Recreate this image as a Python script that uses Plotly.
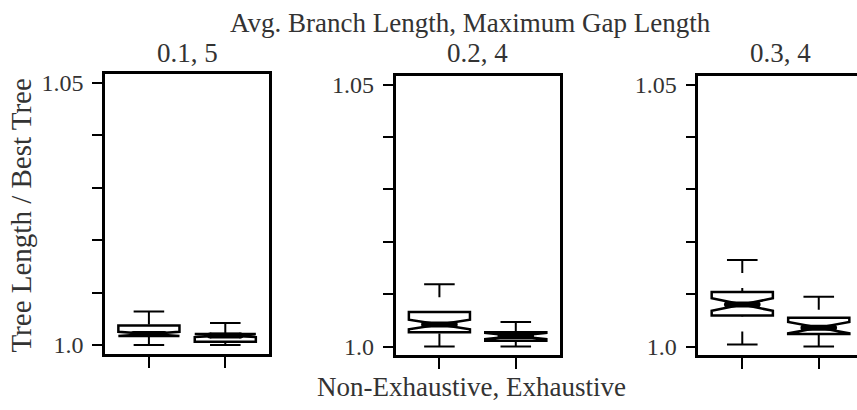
import plotly.graph_objects as go

# ---------------- data ----------------
panel_titles = ["0.1, 5", "0.2, 4", "0.3, 4"]
methods = ["Non-Exhaustive", "Exhaustive"]
positions = [1, 2]
# per panel: [Non-Exhaustive, Exhaustive]
lower_whisker = [[1.0000, 1.0000], [1.0000, 1.0000], [1.0004, 1.0000]]
q1_vals = [[1.0017, 1.0006], [1.0027, 1.0011], [1.0059, 1.0024]]
median_vals = [[1.0021, 1.0018], [1.0042, 1.0020], [1.0080, 1.0036]]
q3_vals = [[1.0037, 1.0021], [1.0066, 1.0027], [1.0104, 1.0055]]
upper_whisker = [[1.0064, 1.0042], [1.0119, 1.0047], [1.0165, 1.0095]]
notch_span = [[0.0004, 0.0003], [0.0009, 0.0006], [0.0012, 0.0011]]
y_tick_vals = [1.0, 1.01, 1.02, 1.03, 1.04, 1.05]
y_tick_text = ["1.0", "", "", "", "", "1.05"]
main_title = "Avg. Branch Length, Maximum Gap Length"
x_title = "Non-Exhaustive, Exhaustive"
y_title = "Tree Length / Best Tree"

# ---------------- style ----------------
W, H = 857, 410
FONT = "'Liberation Serif', 'Times New Roman', Times, 'DejaVu Serif', serif"
TXT = "#333333"
BOX_W = 0.8
LW = 2.5


def px_x(p):
    return p / W


def px_y(p):
    return 1 - p / H


# panel pixel geometry (inner edges)
x_domains = [[105.0, 269.2], [395.5, 559.7], [698.3, 857.0]]
y_domains = [[71.5, 356.8], [73.1, 358.4], [73.1, 358.4]]
x_ranges = [[0.425, 2.575], [0.425, 2.575], [0.425, 2.5]]
y_range = [0.9983, 1.0517]

fig = go.Figure()

for i in range(3):
    xa = "x" if i == 0 else f"x{i+1}"
    ya = "y" if i == 0 else f"y{i+1}"
    # box bodies with notches (whiskers drawn separately, dashed)
    fig.add_trace(go.Box(
        x=positions, q1=q1_vals[i], median=median_vals[i], q3=q3_vals[i],
        lowerfence=q1_vals[i], upperfence=q3_vals[i],
        notched=True, notchspan=notch_span[i], notchwidth=0.5,
        width=BOX_W, whiskerwidth=0, boxpoints=False,
        fillcolor="white", line=dict(color="black", width=LW),
        xaxis=xa, yaxis=ya, showlegend=False, hoverinfo="skip",
    ))
    for j, p in enumerate(positions):
        # dashed whiskers, starting from whisker end toward the box
        for a, b in ((upper_whisker[i][j], q3_vals[i][j]),
                     (lower_whisker[i][j], q1_vals[i][j])):
            fig.add_trace(go.Scatter(
                x=[p, p], y=[a, b], mode="lines",
                line=dict(color="black", width=2, dash="13px,15px"),
                xaxis=xa, yaxis=ya, showlegend=False, hoverinfo="skip",
            ))
        # staples
        for v in (upper_whisker[i][j], lower_whisker[i][j]):
            fig.add_trace(go.Scatter(
                x=[p - BOX_W / 4, p + BOX_W / 4], y=[v, v], mode="lines",
                line=dict(color="black", width=2),
                xaxis=xa, yaxis=ya, showlegend=False, hoverinfo="skip",
            ))
        # thick median
        m = median_vals[i][j]
        fig.add_trace(go.Scatter(
            x=[p - BOX_W / 4, p + BOX_W / 4], y=[m, m], mode="lines+markers",
            line=dict(color="black", width=6),
            marker=dict(color="black", size=6),
            xaxis=xa, yaxis=ya, showlegend=False, hoverinfo="skip",
        ))

layout = dict(
    width=W, height=H,
    margin=dict(l=0, r=0, t=0, b=0),
    paper_bgcolor="white", plot_bgcolor="white",
    showlegend=False,
    font=dict(family=FONT, color=TXT, size=24),
)

for i in range(3):
    kx = "xaxis" if i == 0 else f"xaxis{i+1}"
    ky = "yaxis" if i == 0 else f"yaxis{i+1}"
    ya = "y" if i == 0 else f"y{i+1}"
    xa = "x" if i == 0 else f"x{i+1}"
    layout[kx] = dict(
        domain=[px_x(x_domains[i][0]), min(1.0, px_x(x_domains[i][1]))],
        range=x_ranges[i], anchor=ya,
        showline=True, linecolor="black", linewidth=LW, mirror=True,
        ticks="outside", ticklen=11, tickwidth=1.5, tickcolor="black",
        tickvals=positions, ticktext=methods, showticklabels=False,
        showgrid=False, zeroline=False, fixedrange=True,
    )
    layout[ky] = dict(
        domain=[px_y(y_domains[i][1]), px_y(y_domains[i][0])],
        range=y_range, anchor=xa,
        showline=True, linecolor="black", linewidth=LW, mirror=(i < 2),
        ticks="outside", ticklen=10, tickwidth=1.5, tickcolor="black",
        tickvals=y_tick_vals, ticktext=y_tick_text,
        tickfont=dict(family=FONT, size=24, color=TXT),
        ticklabelstandoff=4,
        showgrid=False, zeroline=False, fixedrange=True,
    )

annotations = []
panel_centers = [187.1, 477.6, 780.8]
for i in range(3):
    annotations.append(dict(
        text=panel_titles[i], x=px_x(panel_centers[i]), y=px_y(50.0),
        xref="paper", yref="paper", xanchor="center", yanchor="middle",
        showarrow=False, font=dict(family=FONT, size=27, color=TXT),
    ))
annotations.append(dict(
    text=main_title, x=px_x(470), y=px_y(19.0), xref="paper", yref="paper",
    xanchor="center", yanchor="middle", showarrow=False,
    font=dict(family=FONT, size=27, color=TXT),
))
annotations.append(dict(
    text=x_title, x=px_x(471.7), y=px_y(391), xref="paper", yref="paper",
    xanchor="center", yanchor="middle", showarrow=False,
    font=dict(family=FONT, size=27, color=TXT),
))
annotations.append(dict(
    text=y_title, x=px_x(21), y=px_y(215.8), xref="paper", yref="paper",
    xanchor="center", yanchor="middle", textangle=-90, showarrow=False,
    font=dict(family=FONT, size=29, color=TXT),
))
layout["annotations"] = annotations

fig.update_layout(**layout)
fig.write_html("out.html")
